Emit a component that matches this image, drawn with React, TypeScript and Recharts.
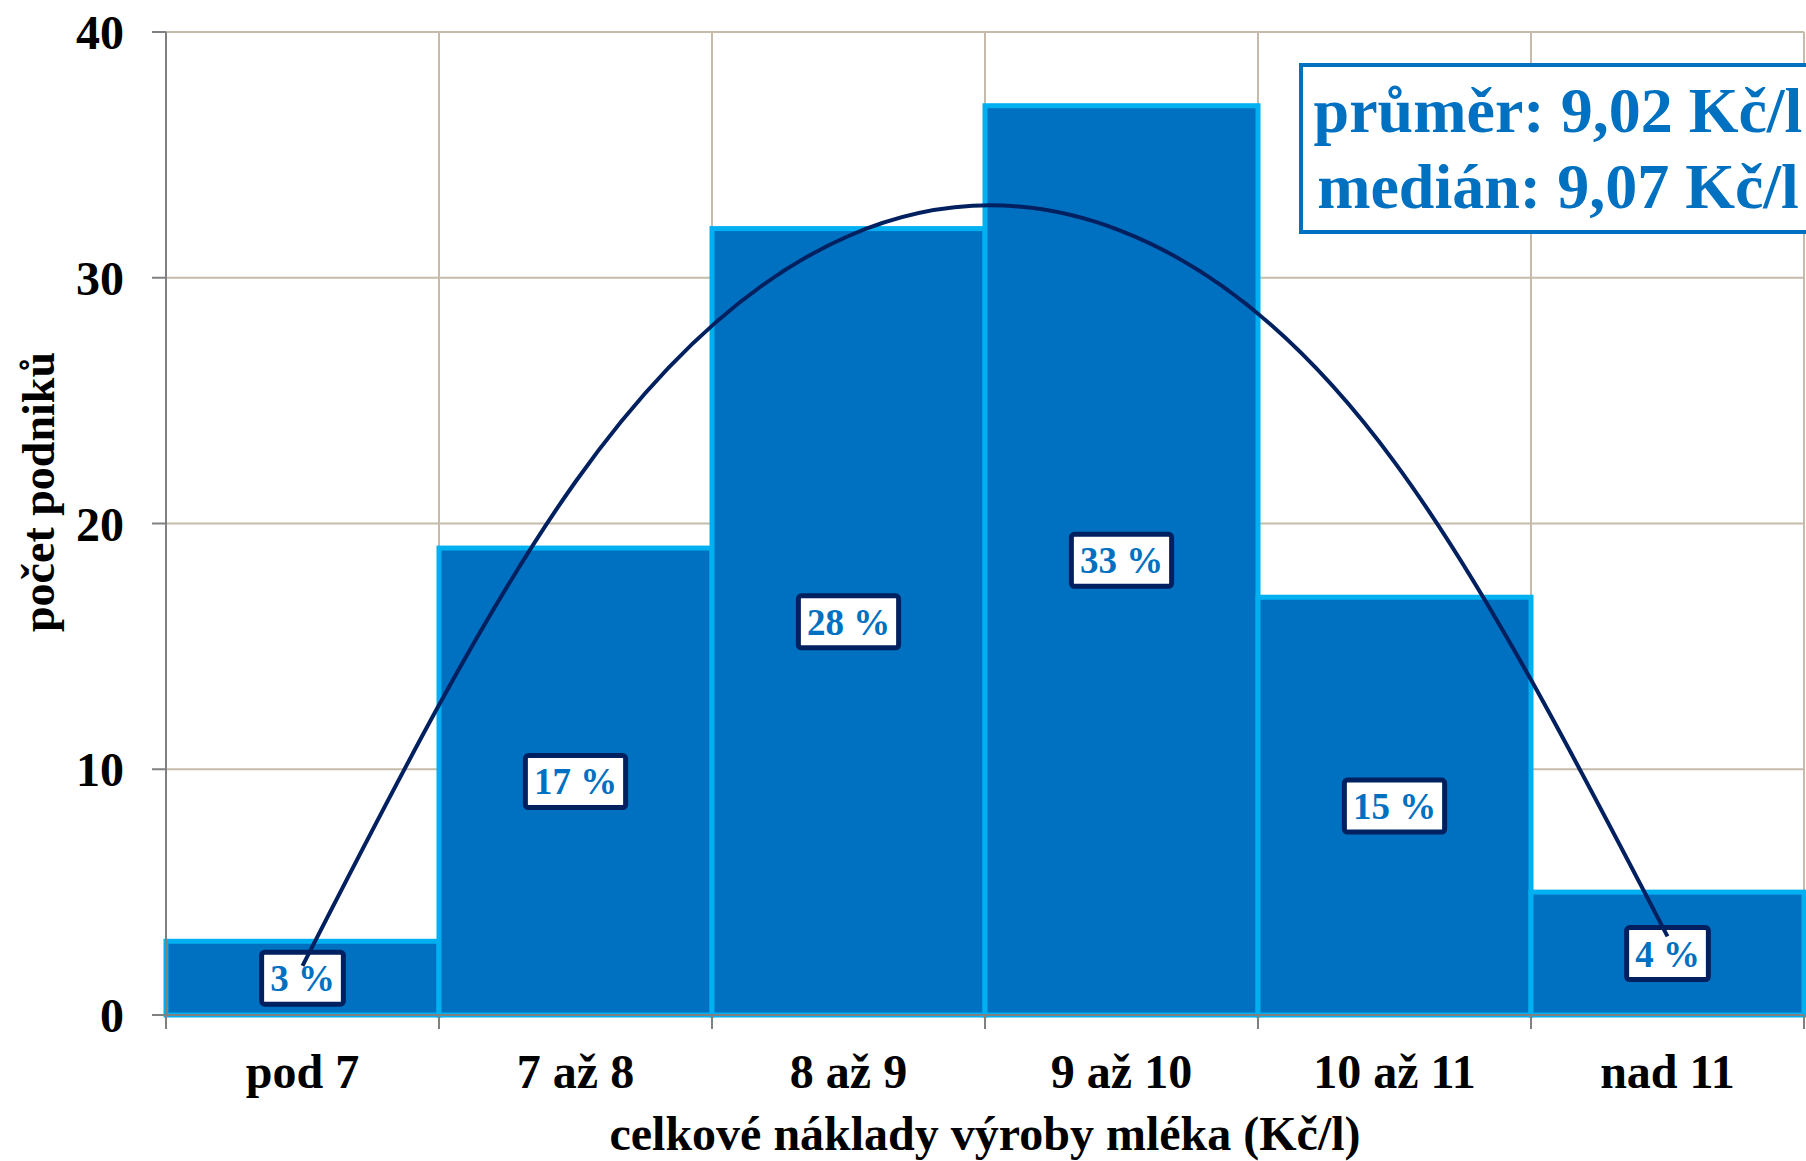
import React from 'react';
import { ComposedChart, Bar, Line, XAxis, YAxis, CartesianGrid } from 'recharts';

// cost bands (Kč/l)
const categories = ['pod 7', '7 až 8', '8 až 9', '9 až 10', '10 až 11', 'nad 11'];
// number of farms per band
const companies = [3, 19, 32, 37, 17, 5];
// share of farms (%)
const shares = [3, 17, 28, 33, 15, 4];
// trend curve read at band centres
const trend = [2.0, 21.7, 31.7, 31.9, 22.5, 3.2];
const yTicks = [0, 10, 20, 30, 40];
const statLines = ['průměr: 9,02 Kč/l', 'medián: 9,07 Kč/l'];

const data = categories.map((name, i) => ({
  name,
  count: companies[i],
  share: shares[i],
  trend: trend[i],
}));

const W = 1806;
const H = 1161;
const MARGIN = { top: 32, right: 2, left: 0, bottom: 0 };
const Y_AXIS_W = 166;
const X_AXIS_H = 146;
const PLOT_W = W - Y_AXIS_W - MARGIN.left - MARGIN.right;
const BAND = PLOT_W / categories.length;
const FONT = '"Liberation Serif", "Times New Roman", serif';
const GRID = '#C6BBAA';
const AXIS = '#808080';

// bar rect plus its share label, so the trend line is drawn over the labels
const BarWithLabel = (props: any) => {
  const { x, y, width, height } = props;
  const value = props.share ?? props.payload?.share;
  const cx = x + width / 2;
  const cy = y + height / 2;
  const fs = 37;
  const digits = String(value).length;
  const bw = fs * (0.5 * digits + 1.25) + 17;
  const bh = 52;
  return (
    <g>
      <rect x={x} y={y} width={width} height={height} fill="#0070C0" stroke="#00B0F0" strokeWidth={5} />
      <rect x={cx - bw / 2} y={cy - bh / 2} width={bw} height={bh} rx={3} fill="#ffffff" stroke="#002060" strokeWidth={5} />
      <text x={cx} y={cy + fs * 0.35} textAnchor="middle" fontFamily={FONT} fontWeight="bold" fontSize={fs} fill="#0070C0">
        {`${value} %`}
      </text>
    </g>
  );
};

const XTick = (props: any) => {
  const { x, y, payload, index } = props;
  const last = index === categories.length - 1;
  return (
    <g>
      <line x1={x - BAND / 2} x2={x - BAND / 2} y1={y} y2={y + 14} stroke={AXIS} strokeWidth={2} />
      {last && <line x1={x + BAND / 2} x2={x + BAND / 2} y1={y} y2={y + 14} stroke={AXIS} strokeWidth={2} />}
      <text x={x} y={y + 73} textAnchor="middle" fontFamily={FONT} fontWeight="bold" fontSize={48} fill="#000">
        {payload.value}
      </text>
    </g>
  );
};

export default function App() {
  return (
    <div style={{ position: 'absolute', left: 0, top: 0, width: W, height: H, overflow: 'hidden', background: '#fff' }}>
      <ComposedChart
        width={W}
        height={H}
        data={data}
        margin={MARGIN}
        barCategoryGap={0}
        barGap={0}
        style={{ fontFamily: FONT }}
      >
        <CartesianGrid
          stroke={GRID}
          strokeWidth={2}
          verticalCoordinatesGenerator={({ offset }: any) =>
            categories.map((_, i) => offset.left + (i * offset.width) / categories.length).concat(offset.left + offset.width)
          }
        />
        <XAxis
          dataKey="name"
          height={X_AXIS_H}
          tickSize={0}
          tickMargin={0}
          tickLine={false}
          axisLine={{ stroke: AXIS, strokeWidth: 2 }}
          tick={<XTick />}
          interval={0}
        />
        <YAxis
          width={Y_AXIS_W}
          domain={[0, 40]}
          ticks={yTicks}
          tickSize={14}
          tickMargin={28}
          axisLine={{ stroke: AXIS, strokeWidth: 2 }}
          tickLine={{ stroke: AXIS, strokeWidth: 2 }}
          tick={{ fontSize: 48, fontWeight: 'bold', fill: '#000', fontFamily: FONT }}
        />
        <Bar dataKey="count" fill="#0070C0" shape={<BarWithLabel />} isAnimationActive={false} />
        <Line
          dataKey="trend"
          type="natural"
          stroke="#002060"
          strokeWidth={4}
          dot={false}
          activeDot={false}
          isAnimationActive={false}
        />
      </ComposedChart>
      <svg width={W} height={H} style={{ position: 'absolute', left: 0, top: 0, pointerEvents: 'none' }}>
        <text
          x={54}
          y={492}
          transform="rotate(-90 54 492)"
          textAnchor="middle"
          fontFamily={FONT}
          fontWeight="bold"
          fontSize={46}
          fill="#000"
        >
          počet podniků
        </text>
        <text x={985} y={1150} textAnchor="middle" fontFamily={FONT} fontWeight="bold" fontSize={48} fill="#000">
          celkové náklady výroby mléka (Kč/l)
        </text>
        <rect x={1301} y={65} width={520} height={167} fill="#fff" stroke="#0070C0" strokeWidth={4} />
        {statLines.map((s, i) => (
          <text
            key={s}
            x={1558}
            y={132 + i * 76}
            textAnchor="middle"
            fontFamily={FONT}
            fontWeight="bold"
            fontSize={64}
            fill="#0070C0"
          >
            {s}
          </text>
        ))}
      </svg>
    </div>
  );
}
